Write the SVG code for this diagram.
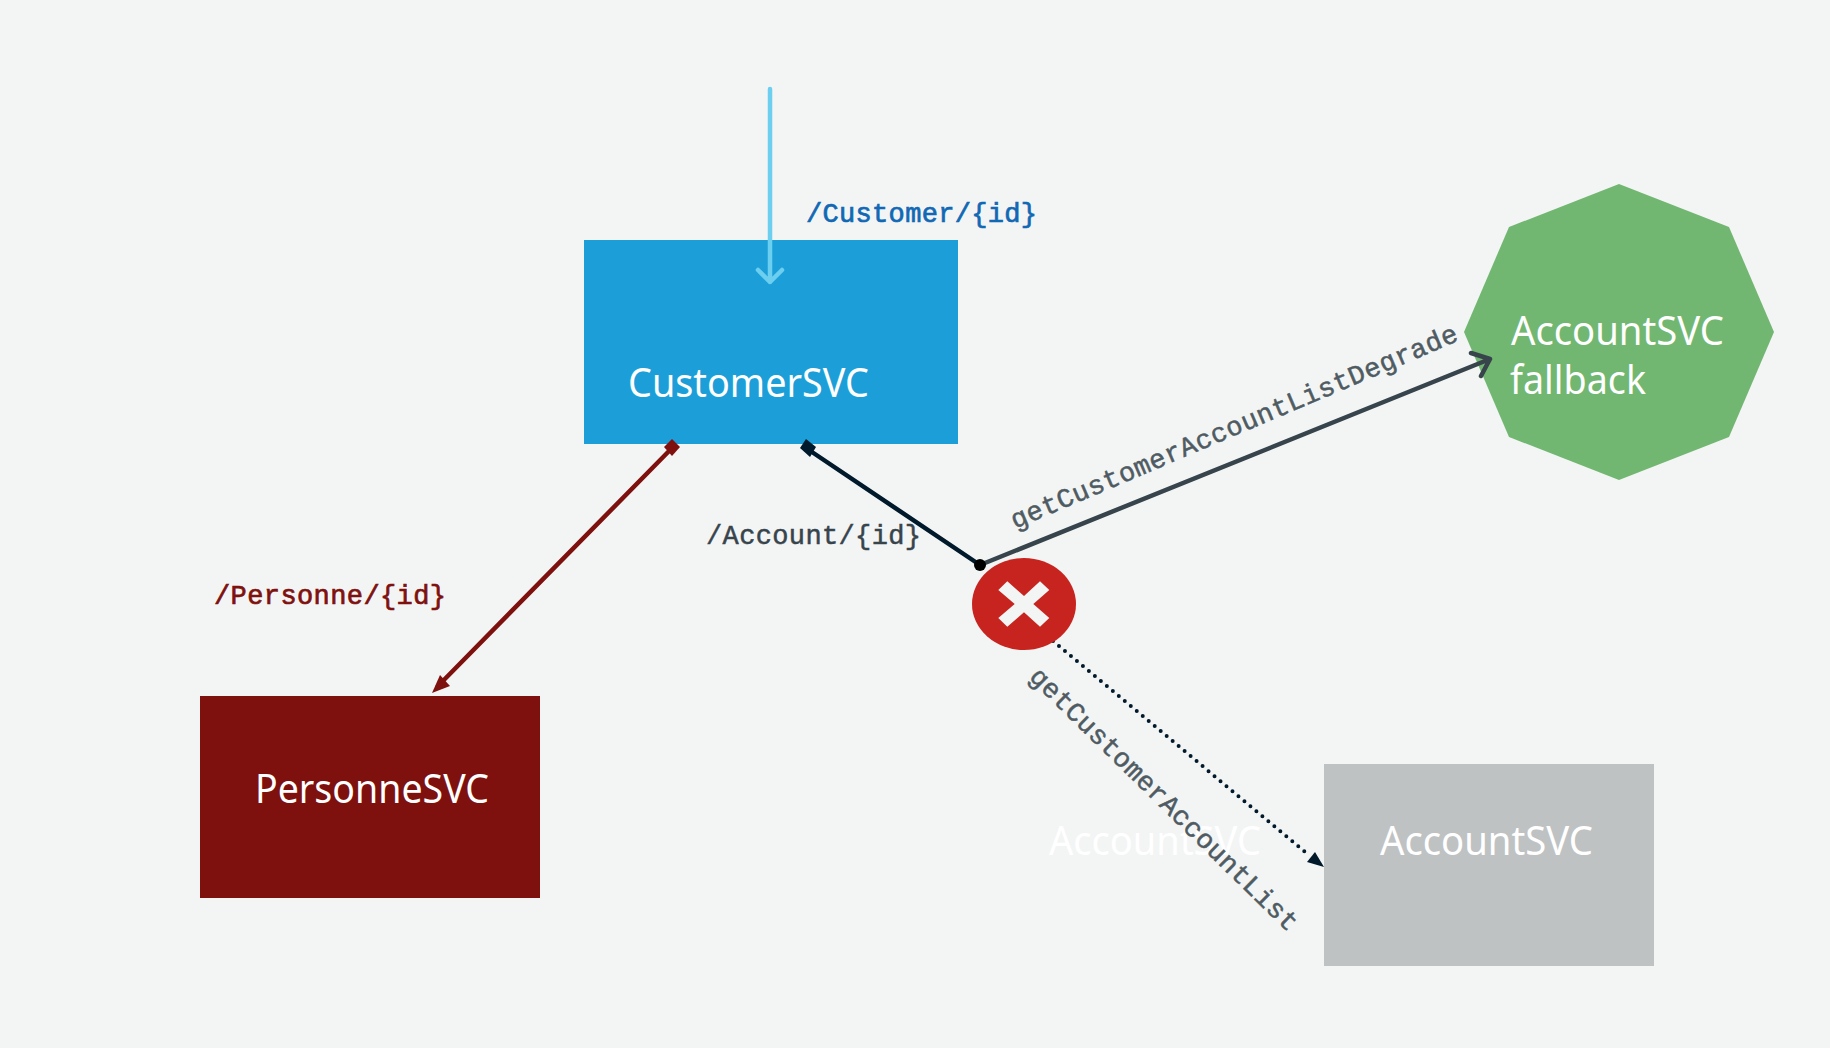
<svg xmlns="http://www.w3.org/2000/svg" width="1830" height="1048" viewBox="0 0 1830 1048">
<style>
.n{font-family:"Noto Sans","Open Sans",sans-serif;font-size:40px;fill:#fff}
.m{font-family:"Liberation Mono",monospace;font-size:27px}
.l{fill:none;stroke-width:4.5;stroke-linecap:round;stroke-linejoin:round}
</style>
<rect width="1830" height="1048" fill="#f3f5f5"/>
<g id="CustomerSVC"><rect x="584" y="240" width="374" height="204" fill="#1c9fd8"/><text class="n" x="628" y="397" textLength="241" lengthAdjust="spacingAndGlyphs">CustomerSVC</text></g>
<g id="PersonneSVC"><rect x="200" y="696" width="340" height="202" fill="#7e110e"/><text class="n" x="255" y="803" textLength="234" lengthAdjust="spacingAndGlyphs">PersonneSVC</text></g>
<g id="AccountSVC"><rect x="1324" y="764" width="330" height="202" fill="#bfc2c3"/><text class="n" x="1380" y="855" textLength="213" lengthAdjust="spacingAndGlyphs">AccountSVC</text></g>
<g id="AccountSVC-ghost"><text class="n" x="1049" y="855" textLength="212" lengthAdjust="spacingAndGlyphs">AccountSVC</text></g>
<g id="AccountSVC-fallback"><polygon points="1619,184 1729,227 1774,332 1729,437 1619,480 1509,437 1464,332 1509,227" fill="#72b771"/><text class="n" x="1511" y="345" textLength="213" lengthAdjust="spacingAndGlyphs">AccountSVC</text><text class="n" x="1510" y="394" textLength="136" lengthAdjust="spacingAndGlyphs">fallback</text></g>
<g id="connectors">
<g id="c-customer"><path class="l" d="M770 89V282M758 270L770 282L782 270" stroke="#6dcff0"/></g>
<g id="c-personne"><path class="l" d="M672 448L438 686" stroke="#7e110e"/><polygon points="672,439 680,447 672,456 664,447" fill="#7e110e"/><polygon points="432,693 440,675 450,686" fill="#7e110e"/></g>
<g id="c-account"><path class="l" d="M806 448L980 565" stroke="#00192b"/><polygon points="806,439 816,447 810,457 800,448" fill="#00192b"/></g>
<g id="c-degrade"><path class="l" d="M980 565L1490 359M1471 353L1490 359L1481 376" stroke="#37444c"/></g>
<g id="c-list"><path d="M1053 641L1310 856" fill="none" stroke="#00192b" stroke-width="4" stroke-linecap="round" stroke-dasharray="0 7.8"/><polygon points="1324,867 1307,862 1315,852" fill="#00192b"/></g>
<circle cx="980" cy="565" r="6" fill="#000"/>
</g>
<g id="error"><ellipse cx="1024" cy="604" rx="52" ry="46" fill="#c8241f"/><polygon points="1007.3,581.3 1024,596 1040,581.3 1049.3,590 1033.3,604 1049.3,618 1040,626.7 1024,612.3 1007.3,626.7 998.3,618 1014.7,604 998.3,590" fill="#f3f5f5"/></g>
<g id="labels">
<text class="m" x="806" y="222" fill="#1168b4" stroke="#1168b4" stroke-width=".7" textLength="231">/Customer/{id}</text>
<text class="m" x="214" y="604" fill="#7e110e" stroke="#7e110e" stroke-width=".7" textLength="232">/Personne/{id}</text>
<text class="m" x="706" y="544" fill="#37444c" stroke="#37444c" stroke-width=".5" textLength="215">/Account/{id}</text>
<text class="m" transform="translate(1015 529) rotate(-23)" fill="#4f5b62" stroke="#4f5b62" stroke-width=".5" textLength="483" lengthAdjust="spacing">getCustomerAccountListDegrade</text>
<text class="m" transform="translate(1028 678) rotate(44.4)" fill="#4f5b62" stroke="#4f5b62" stroke-width=".5" textLength="364" lengthAdjust="spacing">getCustomerAccountList</text>
</g>
</svg>
